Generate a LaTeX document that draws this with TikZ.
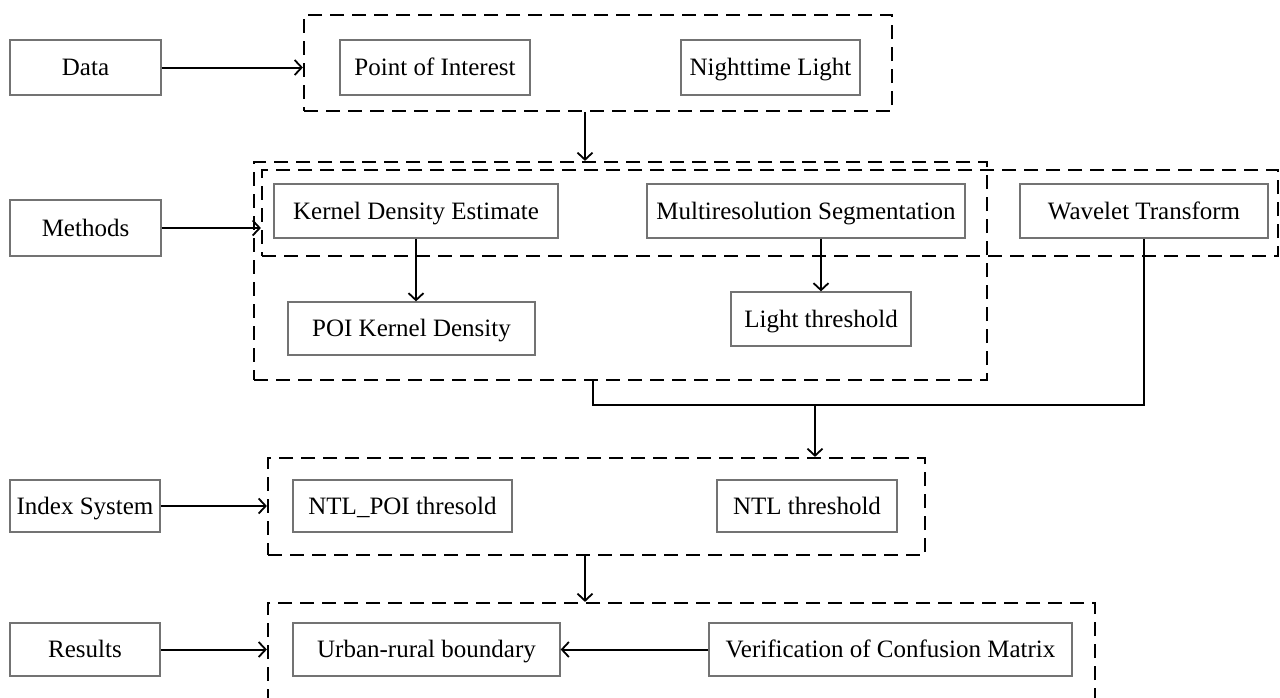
\documentclass[tikz,border=0pt]{standalone}
\usepackage{fontspec}
\setmainfont{Liberation Serif}
\usetikzlibrary{arrows.meta,calc}
\begin{document}
\begin{tikzpicture}[x=1pt,y=-1pt,
  every node/.style={inner sep=0pt,font=\fontsize{25}{30}\selectfont,text height=19pt,text depth=3pt},
  bx/.style={draw=black!55,line width=1.3pt,rectangle},
  grp/.style={draw=black,line width=2.2pt,dash pattern=on 14pt off 8pt,rectangle},
  arr/.style={draw=black,line width=2pt,-{Straight Barb[length=7pt,width=15pt,line width=1.8pt]}},
  ln/.style={draw=black,line width=2pt}]
\clip (0,0) rectangle (1280,697);
\fill[white] (0,0) rectangle (1280,697);
% left labels
\node[bx,minimum width=151pt,minimum height=55pt] (data) at (85.5,67.5) {Data};
\node[bx,minimum width=151pt,minimum height=56pt] (meth) at (85.5,228) {Methods};
\node[bx,minimum width=150pt,minimum height=52pt] (index) at (85,506) {Index System};
\node[bx,minimum width=150pt,minimum height=53pt] (res) at (85,649.5) {Results};
% group boxes
\node[grp,minimum width=588pt,minimum height=96pt] (g1) at (598,63) {};
\node[grp,minimum width=733pt,minimum height=218pt] (g2o) at (620.5,271) {};
\node[grp,minimum width=1016pt,minimum height=86pt] (g2i) at (770,213) {};
\node[grp,minimum width=657pt,minimum height=97pt] (g3) at (596.5,506.5) {};
\node[grp,minimum width=827pt,minimum height=130pt] (g4) at (681.5,668) {};
% inner boxes
\node[bx,minimum width=190pt,minimum height=55pt] (poi) at (435,67.5) {Point of Interest};
\node[bx,minimum width=179pt,minimum height=55pt] (ntl) at (770.5,67.5) {Nighttime Light};
\node[bx,minimum width=284pt,minimum height=54pt] (kde) at (416,211) {Kernel Density Estimate};
\node[bx,minimum width=318pt,minimum height=54pt] (mrs) at (806,211) {Multiresolution Segmentation};
\node[bx,minimum width=248pt,minimum height=54pt] (wav) at (1144,211) {Wavelet Transform};
\node[bx,minimum width=247pt,minimum height=53pt] (poikd) at (411.5,328.5) {POI Kernel Density};
\node[bx,minimum width=180pt,minimum height=54pt] (lt) at (821,319) {Light threshold};
\node[bx,minimum width=219pt,minimum height=52pt] (ntlpoi) at (402.5,506) {NTL\_POI thresold};
\node[bx,minimum width=180pt,minimum height=52pt] (ntlt) at (807,506) {NTL threshold};
\node[bx,minimum width=267pt,minimum height=53pt] (urb) at (426.5,649.5) {Urban-rural boundary};
\node[bx,minimum width=363pt,minimum height=53pt] (ver) at (890.5,649.5) {Verification of Confusion Matrix};
% connectors
\draw[arr] (data.east) -- (data.east -| g1.west);
\draw[arr] (meth.east) -- (meth.east -| g2i.west);
\draw[arr] (index.east) -- (index.east -| g3.west);
\draw[arr] (res.east) -- (res.east -| g4.west);
\coordinate (a1) at ($(g1.south)+(-13,0)$);
\draw[arr] (a1) -- (a1 |- g2o.north);
\draw[arr] (kde.south) -- (kde.south |- poikd.north);
\draw[arr] (lt.north |- mrs.south) -- (lt.north);
\coordinate (jl) at (593,405);
\coordinate (j) at (815,405);
\draw[ln] (jl |- g2o.south) -- (jl) -| (wav.south);
\draw[arr] (j) -- (j |- g3.north);
\coordinate (a3) at ($(g3.south)+(-11.5,0)$);
\draw[arr] (a3) -- (a3 |- g4.north);
\draw[arr] (ver.west) -- (urb.east);
\end{tikzpicture}
\end{document}
